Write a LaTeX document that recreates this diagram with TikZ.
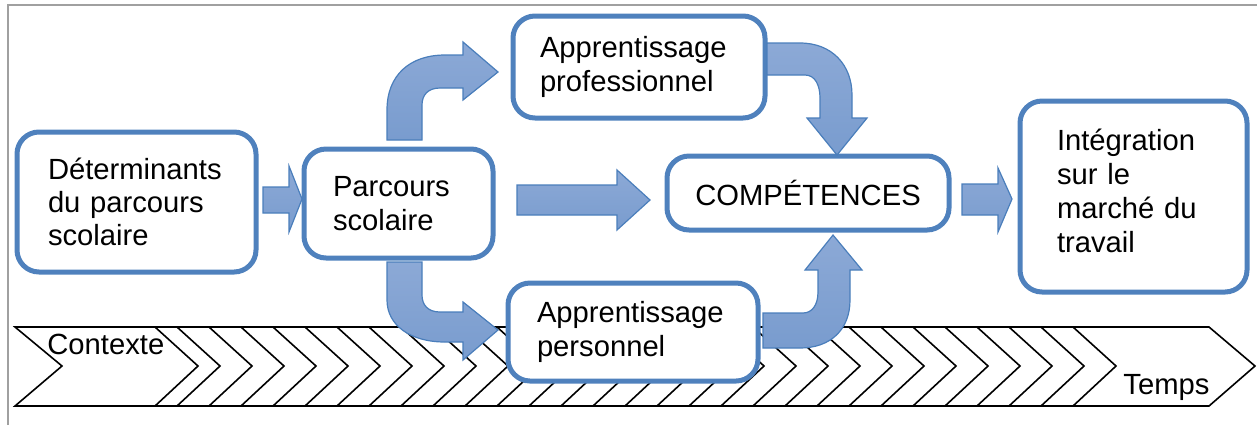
\documentclass[tikz,border=0pt]{standalone}
\usepackage{fontspec}
\setmainfont{Liberation Sans}
\definecolor{boxblue}{HTML}{4F81BD}
\definecolor{arrline}{HTML}{4A7EBB}
\definecolor{arrlight}{HTML}{8CA9D6}
\definecolor{arrdark}{HTML}{4C7DBC}
\definecolor{framegray}{HTML}{A0A0A0}
\newcommand\diagfont{\fontsize{14.6}{16.6}\selectfont}
\begin{document}
\begin{tikzpicture}[x=0.5pt,y=-0.5pt,
  box/.style={draw=boxblue, line width=2.5pt, rounded corners=11pt, fill=white, align=left, font=\diagfont},
  blockarrow/.style={draw=arrline, line width=0.6pt, top color=arrlight, middle color=arrdark, bottom color=arrlight!70!arrdark},
  bandline/.style={draw=black, line width=0.8pt},
  plain/.style={font=\diagfont, inner sep=0pt, anchor=west}]
\useasboundingbox (0,0) rectangle (1257,425);
% frame
\draw[framegray, line width=1pt] (8,425) -- (8,5) -- (1257,5);
% time band
\draw[bandline, fill=white] (15,327) -- (1209,327) -- (1255,366) -- (1209,406) -- (15,406) -- (62,366) -- cycle;
\draw[bandline] (155,327) -- (198,366) -- (155,406);
\foreach \t in {0,...,28} \draw[bandline] ({177+32*\t},327) -- ({220+32*\t},366) -- ({177+32*\t},406);
\node[plain] (contexte) at (47,344) {Contexte};
\node[plain] (temps) at (1123,387) {Temps};
% boxes
\node[box, minimum width=119.5pt, minimum height=70pt, inner xsep=15.5pt, text width=88.5pt] (det) at (136.5,202) {Déterminants\\du parcours\\scolaire};
\node[box, minimum width=94.5pt, minimum height=54.5pt, inner xsep=14.5pt, text width=65.5pt] (parc) at (398.5,203.5) {Parcours\\scolaire};
\node[box, minimum width=126pt, minimum height=51pt, inner xsep=13.5pt, text width=99pt] (pro) at (639,67) {Apprentissage\\professionnel};
\node[box, align=center, minimum width=141pt, minimum height=37pt] (comp) at (808,193) {COMPÉTENCES};
\node[box, minimum width=125pt, minimum height=49pt, inner xsep=14.5pt, text width=96pt] (pers) at (633,332) {Apprentissage\\personnel};
\node[box, minimum width=113.5pt, minimum height=95.5pt, inner xsep=18.5pt, text width=76.5pt, font=\fontsize{14.6}{17}\selectfont] (integ) at (1133.5,196.5) {Intégration\\sur le\\marché du\\travail\vspace{6pt}};
% straight block arrows
\draw[blockarrow] (263,187) -- (289,187) -- (289,166) -- (302,199) -- (289,232) -- (289,213) -- (263,213) -- cycle;
\draw[blockarrow] (517,185) -- (617,185) -- (617,170) -- (650,200) -- (617,230) -- (617,215) -- (517,215) -- cycle;
\draw[blockarrow] (962,184) -- (998,184) -- (998,168) -- (1012,199) -- (998,232) -- (998,215) -- (962,215) -- cycle;
% bent: parcours -> pro
\draw[blockarrow] (387,140) -- (387,110) .. controls (387,75) and (410,55) .. (445,55) -- (463,55) -- (463,42) -- (498,72) -- (463,100) -- (463,88) -- (440,88) .. controls (428,88) and (422,95) .. (422,105) -- (422,140) -- cycle;
% bent: parcours -> pers
\draw[blockarrow] (387,262) -- (387,300) .. controls (387,325) and (410,342) .. (445,342) -- (463,342) -- (463,360) -- (498,330) -- (463,302) -- (463,312) -- (440,312) .. controls (428,312) and (422,305) .. (422,295) -- (422,262) -- cycle;
% bent: pro -> comp
\draw[blockarrow] (767,43) -- (800,43) .. controls (832,43) and (852,65) .. (852,95) -- (852,118) -- (867,118) -- (837,155) -- (807,118) -- (820,118) -- (820,98) .. controls (820,85) and (815,75) .. (805,75) -- (767,75) -- cycle;
% bent: pers -> comp
\draw[blockarrow] (763,348) -- (800,348) .. controls (830,348) and (850,330) .. (850,300) -- (850,270) -- (862,270) -- (833,235) -- (805,270) -- (818,270) -- (818,292) .. controls (818,305) and (812,313) .. (803,313) -- (763,313) -- cycle;
\end{tikzpicture}
\end{document}
